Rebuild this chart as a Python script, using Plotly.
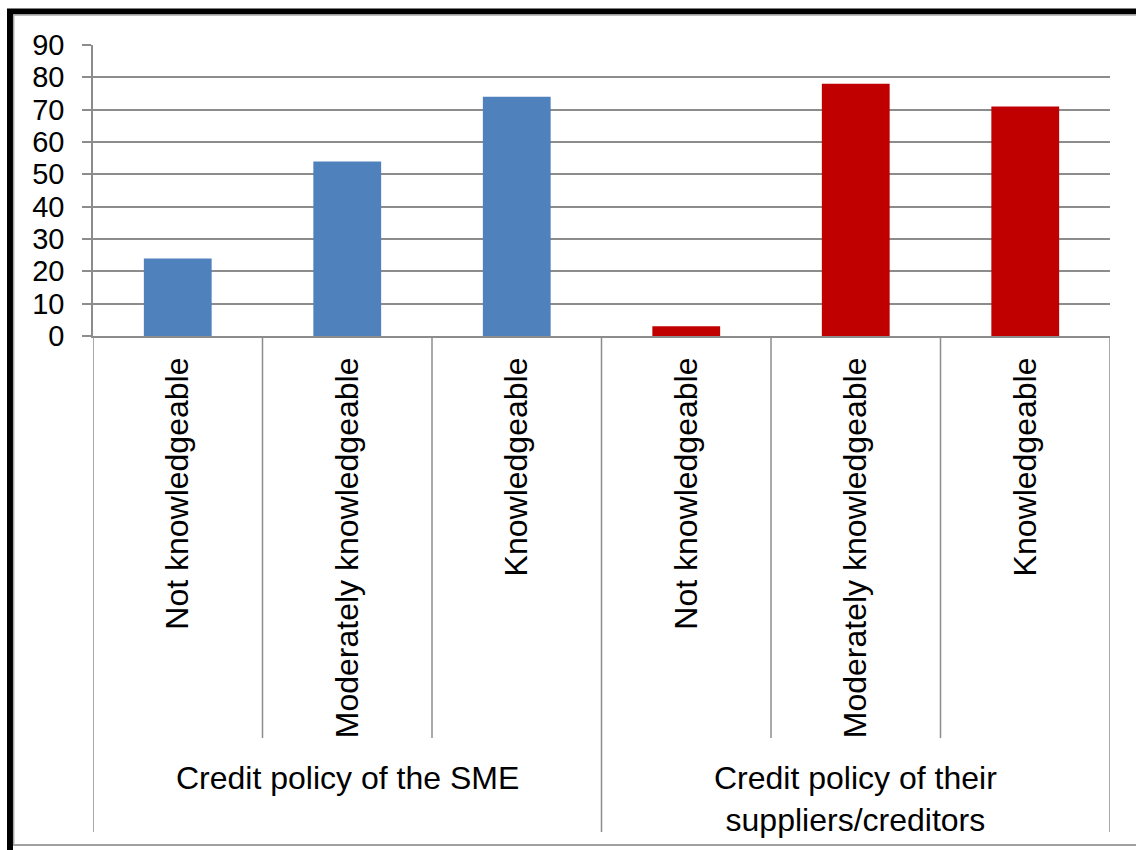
import plotly.graph_objects as go

# Survey responses: knowledge of credit policies
groups = ["Credit policy of the SME", "Credit policy of their<br>suppliers/creditors"]
levels = ["Not knowledgeable", "Moderately knowledgeable", "Knowledgeable"]
sme_values = [24, 54, 74]
supplier_values = [3, 78, 71]
y_ticks = [0, 10, 20, 30, 40, 50, 60, 70, 80, 90]

BLUE = "#4F81BD"
RED = "#C00000"
GRID = "#8C8C8C"
FONT = "Liberation Sans, Arial, sans-serif"

W, H = 1136, 850
ML, MR, MT, MB = 93, 26, 45, 514
PW, PH = W - ML - MR, H - MT - MB


def px_x(px):
    # figure pixel column -> paper x
    return (px - ML) / PW


def px_y(py):
    # figure pixel row -> paper y
    return (H - MB - py) / PH


n = len(levels)
x_sme = list(range(n))
x_sup = list(range(n, 2 * n))
all_labels = levels + levels

fig = go.Figure()
fig.add_trace(go.Bar(x=x_sme, y=sme_values, width=0.4, marker_color=BLUE,
                     marker_line_width=0, name=groups[0]))
fig.add_trace(go.Bar(x=x_sup, y=supplier_values, width=0.4, marker_color=RED,
                     marker_line_width=0, name=groups[1]))

shapes = []
# separators between inner categories (shorter)
for b in [0.5, 1.5, 3.5, 4.5]:
    shapes.append(dict(type="line", xref="x", yref="paper", x0=b, x1=b,
                       y0=0, y1=px_y(738), line=dict(color=GRID, width=1.5)))
# separators between groups (longer)
for b in [-0.5, n - 0.5, 2 * n - 0.5]:
    shapes.append(dict(type="line", xref="x", yref="paper", x0=b, x1=b,
                       y0=0, y1=px_y(832), line=dict(color=GRID, width=1.5)))

# outer frame: heavy black top/left edges with light inner edge, grey bottom
shapes += [
    dict(type="line", xref="paper", yref="paper", x0=px_x(10), x1=px_x(10),
         y0=px_y(9), y1=px_y(850), line=dict(color="black", width=6)),
    dict(type="line", xref="paper", yref="paper", x0=px_x(7), x1=px_x(1136),
         y0=px_y(11.5), y1=px_y(11.5), line=dict(color="black", width=6)),
    dict(type="line", xref="paper", yref="paper", x0=px_x(13.7), x1=px_x(13.7),
         y0=px_y(14.5), y1=px_y(845), line=dict(color="#A8A8A8", width=1.5)),
    dict(type="line", xref="paper", yref="paper", x0=px_x(13), x1=px_x(1136),
         y0=px_y(15), y1=px_y(15), line=dict(color="#A8A8A8", width=1.5)),
    dict(type="line", xref="paper", yref="paper", x0=px_x(13), x1=px_x(1136),
         y0=px_y(845), y1=px_y(845), line=dict(color="#A0A0A0", width=2)),
]

annotations = []
for i, g in enumerate(groups):
    center = i * n + (n - 1) / 2
    annotations.append(dict(x=center, y=px_y(758), xref="x", yref="paper",
                            text=g, showarrow=False, xanchor="center",
                            yanchor="top", align="center",
                            font=dict(family=FONT, size=32, color="black")))

fig.update_layout(
    width=W, height=H,
    margin=dict(l=ML, r=MR, t=MT, b=MB, pad=0),
    paper_bgcolor="white", plot_bgcolor="white",
    showlegend=False, barmode="overlay",
    shapes=shapes, annotations=annotations,
    font=dict(family=FONT, color="black"),
)
fig.update_xaxes(
    range=[-0.5, 2 * n - 0.5], tickmode="array",
    tickvals=x_sme + x_sup, ticktext=all_labels, tickangle=-90,
    tickfont=dict(family=FONT, size=32, color="black"),
    showgrid=False, zeroline=False, showline=True, linecolor=GRID,
    linewidth=1.5, ticks="", ticklabelstandoff=7,
)
fig.update_yaxes(
    range=[0, 90], tickmode="array", tickvals=y_ticks,
    tickfont=dict(family=FONT, size=29, color="black"),
    showgrid=True, gridcolor=GRID, gridwidth=1.5, zeroline=False,
    showline=True, linecolor=GRID, linewidth=1.5,
    ticks="outside", ticklen=9, tickcolor=GRID, tickwidth=1.5,
    ticklabelstandoff=12,
)

fig.write_html("out.html")
